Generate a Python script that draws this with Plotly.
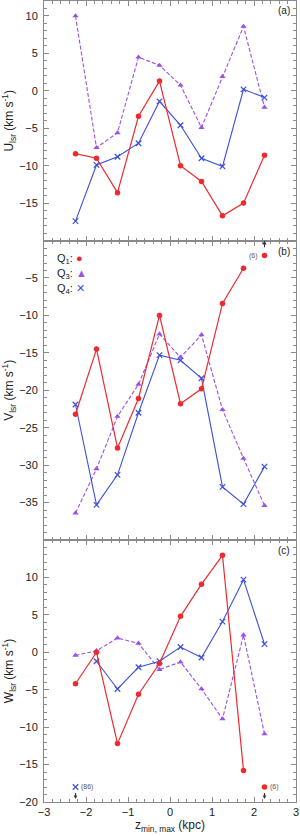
import plotly.graph_objects as go

z = [-2.25, -1.75, -1.25, -0.75, -0.25, 0.25, 0.75, 1.25, 1.75, 2.25]

# Panel (a): U_lsr
U_q1 = [-8.4, -9.0, -13.6, -3.4, 1.3, -10.0, -12.1, -16.7, -15.0, -8.6]
U_q3 = [10.0, -7.6, -5.6, 4.5, 3.4, 0.75, -4.9, 1.9, 8.6, -2.2]
U_q4 = [-17.4, -9.9, -8.8, -7.0, -1.4, -4.6, -9.0, -10.1, 0.2, -0.9]

# Panel (b): V_lsr (Q1 at 2.25 is off-scale, shown separately)
V_q1 = [-23.2, -14.5, -27.7, -21.1, -10.0, -21.8, -19.8, -8.4, -3.7, None]
V_q3 = [-36.4, -30.5, -23.5, -19.2, -12.5, -15.6, -12.6, -22.6, -29.1, -35.4]
V_q4 = [-21.9, -35.3, -31.3, -23.0, -15.3, -16.0, -18.4, -32.9, -35.2, -30.2]

# Panel (c): W_lsr (Q1 at 2.25 and Q4 at -2.25 are off-scale)
W_q1 = [-4.2, 0.0, -12.2, -5.6, -1.5, 4.8, 9.1, 12.95, -15.8, None]
W_q3 = [-0.4, 0.2, 1.9, 1.2, -2.3, -1.3, -4.9, -8.9, 2.3, -10.9]
W_q4 = [None, -1.2, -4.9, -2.0, -1.2, 0.7, -0.7, 4.1, 9.7, 1.1]

# Off-scale markers: (x, y, count label)
off_b_q1 = (2.25, -2.0, "(6)")
off_c_q1 = (2.25, -18.0, "(6)")
off_c_q4 = (-2.25, -18.0, "(86)")

y_ranges = {"a": [-20, 12], "b": [-40, 0], "c": [-20, 15]}
y_ticks = {"a": [-15, -10, -5, 0, 5, 10],
           "b": [-35, -30, -25, -20, -15, -10, -5],
           "c": [-20, -15, -10, -5, 0, 5, 10]}
x_ticks = [-3, -2, -1, 0, 1, 2, 3]

RED = "#ee2a2f"
PUR = "#9b50e6"
BLUE = "#3b4fd9"
GRAY = "#8a8a8a"

fig = go.Figure()

panels = [("a", "x3", "y3", U_q1, U_q3, U_q4),
          ("b", "x2", "y2", V_q1, V_q3, V_q4),
          ("c", "x", "y", W_q1, W_q3, W_q4)]

for name, xa, ya, q1, q3, q4 in panels:
    fig.add_trace(go.Scatter(x=z, y=q3, xaxis=xa, yaxis=ya, mode="lines+markers",
                             line=dict(color=PUR, width=1.1, dash="4px,2px"),
                             marker=dict(symbol="triangle-up", size=5.5, color=PUR),
                             showlegend=False, connectgaps=False))
    fig.add_trace(go.Scatter(x=z, y=q4, xaxis=xa, yaxis=ya, mode="lines+markers",
                             line=dict(color=BLUE, width=1.1),
                             marker=dict(symbol="x-thin", size=5.5, color=BLUE,
                                         line=dict(color=BLUE, width=1.2)),
                             showlegend=False, connectgaps=False))
    fig.add_trace(go.Scatter(x=z, y=q1, xaxis=xa, yaxis=ya, mode="lines+markers",
                             line=dict(color=RED, width=1.2),
                             marker=dict(symbol="circle", size=5.5, color=RED),
                             showlegend=False, connectgaps=False))

# off-scale markers
fig.add_trace(go.Scatter(x=[off_b_q1[0]], y=[off_b_q1[1]], xaxis="x2", yaxis="y2",
                         mode="markers", marker=dict(symbol="circle", size=5.5, color=RED),
                         showlegend=False))
fig.add_trace(go.Scatter(x=[off_c_q1[0]], y=[off_c_q1[1]], xaxis="x", yaxis="y",
                         mode="markers", marker=dict(symbol="circle", size=5.5, color=RED),
                         showlegend=False))
fig.add_trace(go.Scatter(x=[off_c_q4[0]], y=[off_c_q4[1]], xaxis="x", yaxis="y",
                         mode="markers",
                         marker=dict(symbol="x-thin", size=5.5, color=BLUE,
                                     line=dict(color=BLUE, width=1.2)),
                         showlegend=False))

total = sum(r[1] - r[0] for r in y_ranges.values())
hc = (y_ranges["c"][1] - y_ranges["c"][0]) / total
hb = (y_ranges["b"][1] - y_ranges["b"][0]) / total
dom_c = [0, hc]
dom_b = [hc, hc + hb]
dom_a = [hc + hb, 1]

axis_common = dict(showline=True, linecolor=GRAY, linewidth=1, mirror="ticks",
                   ticks="inside", ticklen=5, tickcolor=GRAY, showgrid=False,
                   zeroline=False, automargin=False,
                   tickfont=dict(size=11, color="#222"))

xcommon = dict(axis_common, range=[-3, 3], tickvals=x_ticks,
               minor=dict(ticks="inside", ticklen=3, dtick=0.2, tickcolor=GRAY))

ycommon = dict(axis_common, ticklabelstandoff=3,
               minor=dict(ticks="inside", ticklen=3, dtick=1, tickcolor=GRAY))

fig.update_layout(
    width=300, height=836,
    margin=dict(l=44, r=4, t=1, b=34),
    paper_bgcolor="white", plot_bgcolor="white",
    font=dict(family="Liberation Sans, Arial, sans-serif", color="#222"),
    xaxis=dict(xcommon, anchor="y",
               title=dict(text="z<sub>min, max</sub> (kpc)", font=dict(size=12), standoff=0)),
    xaxis2=dict(xcommon, anchor="y2", matches="x", showticklabels=False),
    xaxis3=dict(xcommon, anchor="y3", matches="x", showticklabels=False),
    yaxis=dict(ycommon, domain=dom_c, range=y_ranges["c"], tickvals=y_ticks["c"],
               anchor="x",
               title=dict(text="W<sub>lsr</sub> (km s<sup>-1</sup>)", font=dict(size=12), standoff=7)),
    yaxis2=dict(ycommon, domain=dom_b, range=y_ranges["b"], tickvals=y_ticks["b"],
                anchor="x2",
                title=dict(text="V<sub>lsr</sub> (km s<sup>-1</sup>)", font=dict(size=12), standoff=7)),
    yaxis3=dict(ycommon, domain=dom_a, range=y_ranges["a"], tickvals=y_ticks["a"],
                anchor="x3",
                title=dict(text="U<sub>lsr</sub> (km s<sup>-1</sup>)", font=dict(size=12), standoff=7)),
)

ann = []
# panel labels
for lab, xr, yr in [("(a)", "x3 domain", "y3 domain"),
                    ("(b)", "x2 domain", "y2 domain"),
                    ("(c)", "x domain", "y domain")]:
    ann.append(dict(text=lab, x=0.985, y=0.99, xref=xr, yref=yr, showarrow=False,
                    xanchor="right", yanchor="top", font=dict(size=10, color="#222")))

# legend in panel (b)
leg = [("Q<sub>1</sub>: ", "●", RED, -2.5), ("Q<sub>3</sub>: ", "▲", PUR, -4.5),
       ("Q<sub>4</sub>: ", "✕", BLUE, -6.5)]
for txt, sym, col, yy in leg:
    ann.append(dict(text=txt + f"<span style='color:{col}'>{sym}</span>",
                    x=-2.75, y=yy,
                    xref="x2", yref="y2", showarrow=False, xanchor="left",
                    font=dict(size=11, color="#222")))

# off-scale count labels and arrows
ann.append(dict(text=off_b_q1[2], x=off_b_q1[0] - 0.1, y=off_b_q1[1], xref="x2", yref="y2",
                showarrow=False, xanchor="right", font=dict(size=7, color="#555")))
ann.append(dict(x=off_b_q1[0], y=y_ranges["b"][1], ax=off_b_q1[0], ay=off_b_q1[1] + 0.9,
                xref="x2", yref="y2", axref="x2", ayref="y2", showarrow=True,
                arrowhead=2, arrowsize=0.8, arrowwidth=1, arrowcolor="#333", text=""))
ann.append(dict(text=off_c_q1[2], x=off_c_q1[0] + 0.08, y=off_c_q1[1], xref="x", yref="y",
                showarrow=False, xanchor="left", font=dict(size=7, color="#555")))
ann.append(dict(text=off_c_q4[2], x=off_c_q4[0] + 0.08, y=off_c_q4[1], xref="x", yref="y",
                showarrow=False, xanchor="left", font=dict(size=7, color="#555")))
for p in (off_c_q1, off_c_q4):
    ann.append(dict(x=p[0], y=p[1] - 1.6, ax=p[0], ay=p[1] - 0.6,
                    xref="x", yref="y", axref="x", ayref="y", showarrow=True,
                    arrowhead=2, arrowsize=0.6, arrowwidth=1.2, arrowcolor="#333", text=""))

fig.update_layout(annotations=ann)

fig.write_html("out.html", config={"displayModeBar": False},
               post_script="document.body.style.margin='0';document.body.style.overflow='hidden';")
